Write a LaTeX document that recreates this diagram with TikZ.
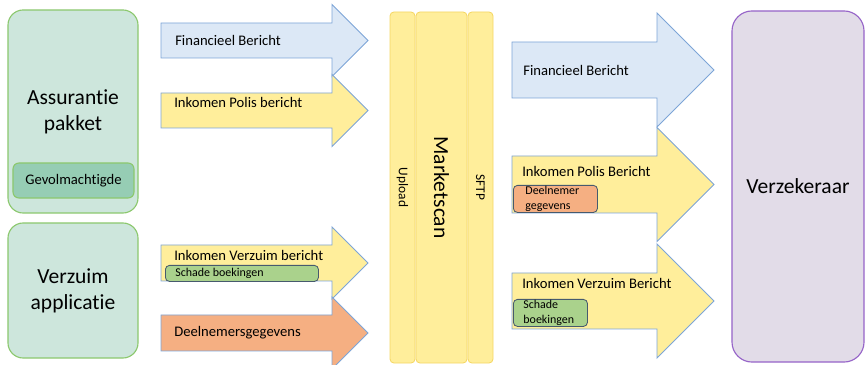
\documentclass[tikz,border=0pt]{standalone}
\usepackage{fontspec}
\setmainfont{Carlito}[Ligatures=NoCommon]
\usepackage{xcolor}
\usepackage{tikz}
\usetikzlibrary{positioning, calc}
\definecolor{appfill}{RGB}{205,230,220}
\definecolor{appline}{RGB}{140,200,110}
\definecolor{subfill}{RGB}{150,205,180}
\definecolor{msgblue}{RGB}{220,232,246}
\definecolor{msgline}{RGB}{125,165,215}
\definecolor{msgyellow}{RGB}{255,238,155}
\definecolor{colline}{RGB}{245,215,100}
\definecolor{msgorange}{RGB}{245,175,130}
\definecolor{tagline}{RGB}{70,90,110}
\definecolor{taggreen}{RGB}{170,210,140}
\definecolor{insfill}{RGB}{226,220,232}
\definecolor{insline}{RGB}{150,100,200}

% block arrow: style, name, x0, xhead, ymid, body half, head half
\newcommand{\blockarrow}[7]{%
  \draw[#1] ({#3},{#5-#6}) -- ({#4},{#5-#6}) -- ({#4},{#5-#7}) -- ({#4+#7},{#5})
    -- ({#4},{#5+#7}) -- ({#4},{#5+#6}) -- ({#3},{#5+#6}) -- cycle;
  \coordinate (#2) at ({#3},{#5});}

\begin{document}
\begin{tikzpicture}[
    x=0.025cm, y=-0.025cm,
    app/.style={draw=appline, fill=appfill, line width=0.8pt, rounded corners=0.38cm, align=center,
      font=\fontsize{15.3}{18.5}\selectfont, minimum width=3.25cm},
    sub/.style={draw=appline, fill=subfill, line width=0.8pt, rounded corners=0.15cm,
      font=\fontsize{10.4}{12.5}\selectfont, minimum width=3.025cm, minimum height=0.875cm},
    col/.style={draw=colline, fill=msgyellow, line width=0.6pt, rounded corners=0.1cm,
      minimum height=8.775cm},
    msg/.style={draw=msgline, line width=0.6pt},
    lbl/.style={anchor=west, inner sep=0pt, font=\fontsize{10.4}{12.5}\selectfont},
    tag/.style={draw=tagline, line width=0.6pt, rounded corners=0.1cm, anchor=north west,
      align=left, inner sep=0pt, font=\fontsize{8.5}{10.7}\selectfont}
]
    \useasboundingbox (0,0) rectangle (866,365);

    % source applications
    \node[app, minimum height=5.075cm] (pakket) at (73,111.5) {Assurantie\\pakket};
    \node[sub] (gevol) at (73.5,180.5) {Gevolmachtigde};
    \node[app, minimum height=3.375cm] (verzuim) at (73,290.5) {Verzuim\\applicatie};

    % incoming messages
    \blockarrow{msg, fill=msgblue}{finin}{161}{332}{40.5}{17.5}{36}
    \blockarrow{msg, fill=msgyellow}{polisin}{161}{332}{110.5}{17.5}{36}
    \blockarrow{msg, fill=msgyellow}{verzuimin}{161}{332}{263}{18}{36}
    \blockarrow{msg, fill=msgorange}{deelin}{161}{332}{333}{18}{36}
    \node[lbl] (finlbl) at (175,40) {Financieel Bericht};
    \node[lbl] (polislbl) at (174,102) {Inkomen Polis bericht};
    \node[lbl] (verzuimlbl) at (174,255) {Inkomen Verzuim bericht};
    \node[tag, fill=taggreen, minimum width=3.825cm, minimum height=0.4cm] (schadein) at (165,265) {};
    \node[tag, draw=none, anchor=west] at ($(schadein.west)+(10,0)$) {Schade boekingen};
    \node[lbl] (deellbl) at (174,333) {Deelnemersgegevens};

    % Marketscan
    \node[col, minimum width=0.625cm] (upload) at (402.5,187.5) {};
    \node[col, minimum width=1.275cm] (market) at (441.5,187.5) {};
    \node[col, minimum width=0.625cm] (sftp) at (480.5,187.5) {};
    \node[rotate=-90, font=\fontsize{9.5}{11}\selectfont] at (upload) {Upload};
    \node[rotate=-90, font=\fontsize{15.3}{18.5}\selectfont] at (market) {Marketscan};
    \node[rotate=-90, font=\fontsize{9.5}{11}\selectfont] at (sftp) {SFTP};

    % outgoing messages
    \blockarrow{msg, fill=msgblue}{finout}{512}{657}{70}{28}{57}
    \blockarrow{msg, fill=msgyellow}{polisout}{512}{657}{184.5}{28.5}{57}
    \blockarrow{msg, fill=msgyellow}{verzuimout}{512}{657}{301}{28}{57}
    \node[lbl] (finoutlbl) at (523,70) {Financieel Bericht};
    \node[lbl] (polisoutlbl) at (522,171) {Inkomen Polis Bericht};
    \node[tag, fill=msgorange, minimum width=2.1cm, minimum height=0.675cm] (deelout) at (513,185) {};
    \node[tag, draw=none, anchor=north west] at ($(deelout.north west)+(12,1)$) {Deelnemer\\gegevens};
    \node[lbl] (verzuimoutlbl) at (522,283) {Inkomen Verzuim Bericht};
    \node[tag, fill=taggreen, minimum width=1.85cm, minimum height=0.675cm] (schadeout) at (513,299) {};
    \node[tag, draw=none, anchor=north west] at ($(schadeout.north west)+(10,1)$) {Schade\\boekingen};

    % insurer
    \node[draw=insline, fill=insfill, line width=0.8pt, rounded corners=0.5cm,
      minimum width=3.3cm, minimum height=8.775cm, font=\fontsize{15.3}{18.5}\selectfont] (verzekeraar) at (798,186.5) {Verzekeraar};
\end{tikzpicture}
\end{document}
